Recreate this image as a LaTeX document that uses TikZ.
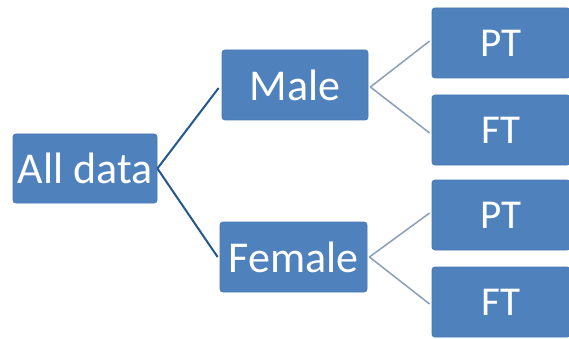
\documentclass[tikz,border=0pt]{standalone}
\usepackage{fontspec}
\setmainfont{Carlito}
\definecolor{boxblue}{HTML}{4F81BD}
\definecolor{boxedge}{HTML}{4A7AB5}
\definecolor{darkline}{HTML}{24588C}
\definecolor{lightline}{HTML}{8A9FB8}
\begin{document}
\begin{tikzpicture}[x=1pt,y=-1pt,
  box/.style={draw=boxedge,fill=boxblue,rounded corners=3pt,text=white,inner sep=0pt,anchor=center,line width=0.8pt},
  bigtext/.style={font=\fontsize{44}{44}\selectfont},
  smalltext/.style={font=\fontsize{41}{41}\selectfont},
  darkconn/.style={draw=darkline,line width=2pt},
  lightconn/.style={draw=lightline,line width=1.5pt}]
\useasboundingbox (0,0) rectangle (569,339);
\clip (0,0) rectangle (569,339);
\fill[white] (0,0) rectangle (569,339);
\node[box,bigtext,minimum width=144pt,minimum height=69pt] (all) at (85,168.5) {All data};
\node[box,bigtext,minimum width=146pt,minimum height=70pt] (male) at (295,85) {Male};
\node[box,bigtext,minimum width=147pt,minimum height=70pt] (female) at (293.5,257) {Female};
\node[box,smalltext,minimum width=138pt,minimum height=70pt] (pt1) at (501,43) {PT};
\node[box,smalltext,minimum width=138pt,minimum height=70pt] (ft1) at (501,130) {FT};
\node[box,smalltext,minimum width=138pt,minimum height=70pt] (pt2) at (501,215) {PT};
\node[box,smalltext,minimum width=138pt,minimum height=70pt] (ft2) at (501,302) {FT};
\draw[darkconn] (all.east) -- ([xshift=-3pt,yshift=-3pt]male.west);
\draw[darkconn] (all.east) -- ([xshift=-2pt]female.west);
\draw[lightconn] ([xshift=2pt,yshift=-2pt]male.east) -- ([xshift=-2pt,yshift=2pt]pt1.west);
\draw[lightconn] ([xshift=2pt,yshift=-2pt]male.east) -- ([xshift=-2pt,yshift=-3pt]ft1.west);
\draw[lightconn] ([xshift=2pt]female.east) -- ([xshift=-2pt,yshift=2pt]pt2.west);
\draw[lightconn] ([xshift=2pt]female.east) -- ([xshift=-2pt,yshift=-2pt]ft2.west);
\end{tikzpicture}
\end{document}
